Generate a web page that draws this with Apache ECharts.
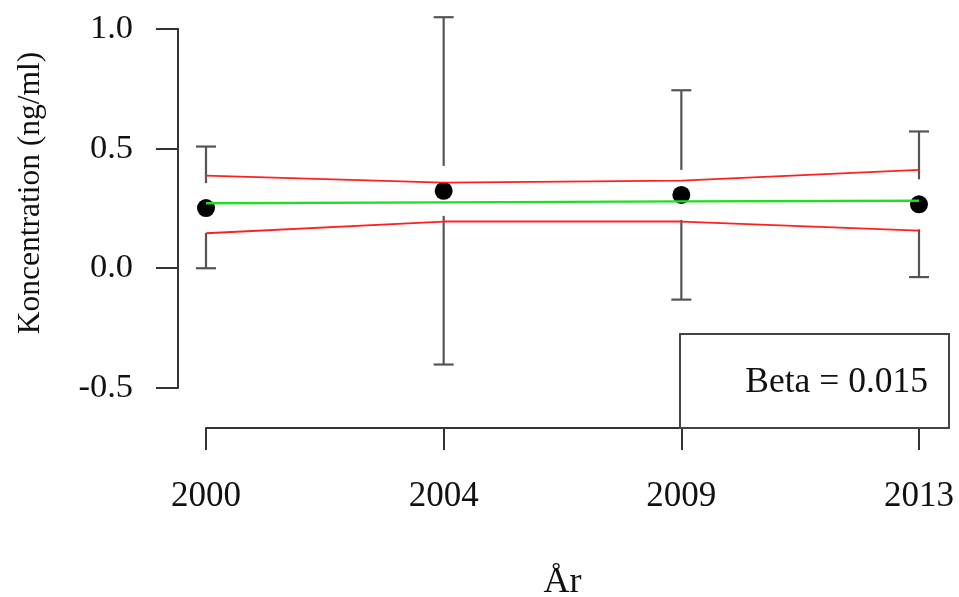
<!DOCTYPE html>
<html>
<head>
<meta charset="utf-8">
<script src="https://cdn.jsdelivr.net/npm/echarts@6/dist/echarts.min.js"></script>
<style>html,body{margin:0;padding:0;background:#fff}#c{width:959px;height:597px}</style>
</head>
<body>
<div id="c"></div>
<script>
const years = ['2000', '2004', '2009', '2013'];
const means = [0.251, 0.323, 0.306, 0.267];
const ciLow = [0.0, -0.402, -0.131, -0.037];
const ciHigh = [0.508, 1.048, 0.743, 0.571];
const fitLine = [0.271, 0.275, 0.279, 0.282];
const bandUpper = [0.387, 0.357, 0.366, 0.411];
const bandLower = [0.146, 0.195, 0.195, 0.157];
const yTicks = [-0.5, 0.0, 0.5, 1.0];
const betaText = 'Beta = 0.015';

const FONT = 'Liberation Serif';
const FS = 34.5;
const AX = '#333';

const chart = echarts.init(document.getElementById('c'));
const errData = years.map((y, i) => [i, ciLow[i], ciHigh[i], means[i]]);

chart.setOption({
  animation: false,
  backgroundColor: '#fff',
  grid: { left: 206, right: 40, top: 28.7, bottom: 209, containLabel: false, outerBoundsMode: 'none' },
  xAxis: {
    type: 'category', data: years, boundaryGap: false, offset: 40,
    axisLine: { onZero: false, lineStyle: { color: AX, width: 2 } },
    axisTick: { length: 22, lineStyle: { color: AX, width: 2 } },
    axisLabel: { margin: 51, fontFamily: FONT, fontSize: 35, color: '#111' },
    splitLine: { show: false },
    name: 'År', nameLocation: 'middle', nameGap: 137,
    nameTextStyle: { fontFamily: FONT, fontSize: 36, color: '#111' }
  },
  yAxis: {
    type: 'value', min: yTicks[0], max: yTicks[yTicks.length - 1], interval: 0.5, offset: 28,
    axisLine: { show: true, lineStyle: { color: AX, width: 2 } },
    axisTick: { show: true, length: 22, lineStyle: { color: AX, width: 2 } },
    axisLabel: { margin: 45, fontFamily: FONT, fontSize: FS, color: '#111',
      formatter: v => v.toFixed(1) },
    splitLine: { show: false }
  },
  graphic: [
    { type: 'text', x: 31, y: 193, rotation: Math.PI / 2,
      style: { text: 'Koncentration (ng/ml)', font: '31.5px "' + FONT + '"', fill: '#111',
        align: 'center', verticalAlign: 'middle' } },
    { type: 'rect', shape: { x: 680, y: 334, width: 269, height: 94 }, z: 10,
      style: { fill: '#fff', stroke: '#444', lineWidth: 2 } },
    { type: 'text', x: 928, y: 383, z: 11,
      style: { text: betaText, font: '35.5px "' + FONT + '"', fill: '#111',
        align: 'right', verticalAlign: 'middle' } }
  ],
  series: [
    {
      type: 'custom', clip: false, z: 2,
      data: errData,
      renderItem: function (params, api) {
        const x = api.value(0);
        const lo = api.coord([x, api.value(1)]);
        const hi = api.coord([x, api.value(2)]);
        const mid = api.coord([x, api.value(3)]);
        const gap = 25, cap = 10;
        const st = { stroke: '#555', lineWidth: 2.2 };
        const ch = [
          { type: 'line', shape: { x1: hi[0] - cap, y1: hi[1], x2: hi[0] + cap, y2: hi[1] }, style: st },
          { type: 'line', shape: { x1: lo[0] - cap, y1: lo[1], x2: lo[0] + cap, y2: lo[1] }, style: st }
        ];
        if (mid[1] - gap > hi[1]) ch.push({ type: 'line', shape: { x1: hi[0], y1: hi[1], x2: hi[0], y2: mid[1] - gap }, style: st });
        if (mid[1] + gap < lo[1]) ch.push({ type: 'line', shape: { x1: lo[0], y1: mid[1] + gap, x2: lo[0], y2: lo[1] }, style: st });
        return { type: 'group', children: ch };
      }
    },
    { type: 'scatter', data: means, symbol: 'circle', symbolSize: 18, z: 3,
      itemStyle: { color: '#000', opacity: 1 } },
    { type: 'line', data: bandUpper, symbol: 'none', z: 4, clip: false,
      lineStyle: { color: '#ff2020', width: 1.8 } },
    { type: 'line', data: bandLower, symbol: 'none', z: 4, clip: false,
      lineStyle: { color: '#ff2020', width: 1.8 } },
    { type: 'line', data: fitLine, symbol: 'none', z: 4, clip: false,
      lineStyle: { color: '#22dd22', width: 2.4 } }
  ]
});
</script>
</body>
</html>
